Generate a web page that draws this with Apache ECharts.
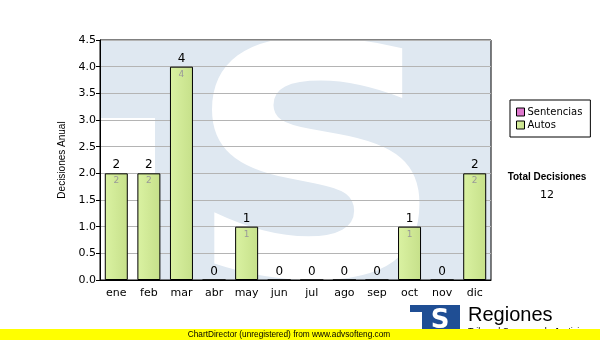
<!DOCTYPE html>
<html><head><meta charset="utf-8">
<script src="https://cdn.jsdelivr.net/npm/echarts@6/dist/echarts.min.js"></script>
<style>html,body{margin:0;padding:0;background:#fff}#c{width:600px;height:340px}</style>
</head><body><div id="c"></div>
<script>
var categories = ['ene','feb','mar','abr','may','jun','jul','ago','sep','oct','nov','dic'];
var sentencias = [0,0,0,0,0,0,0,0,0,0,0,0];
var autos = [2,2,4,0,1,0,0,0,0,1,0,2];
var yTicks = [0,0.5,1,1.5,2,2.5,3,3.5,4,4.5];
var totalDecisiones = 12;

var F = 'DejaVu Sans, Verdana, sans-serif';
var chart = echarts.init(document.getElementById('c'));
chart.setOption({
  animation: false,
  backgroundColor: '#fff',
  grid: {left:100, right:109, top:40, bottom:60, show:true, borderColor:'#000', borderWidth:1, backgroundColor:'transparent'},
  legend: {
    orient:'vertical', left:510, top:100, padding:[7,8,7,6], itemGap:3,
    itemWidth:8, itemHeight:8, icon:'rect',
    borderColor:'#000', borderWidth:1, backgroundColor:'#fff',
    itemStyle:{borderColor:'#000', borderWidth:1},
    textStyle:{fontFamily:F, fontSize:10, color:'#000', padding:[0,0,0,-2]},
    data:['Sentencias','Autos']
  },
  xAxis: {
    type:'category', data:categories,
    axisLine:{lineStyle:{color:'#000'}},
    axisTick:{alignWithLabel:true, length:4, lineStyle:{color:'#000'}},
    axisLabel:{fontFamily:F, fontSize:11, color:'#000', margin:8}
  },
  yAxis: {
    type:'value', min:0, max:4.5, interval:0.5,
    name:'Decisiones Anual', nameLocation:'middle', nameGap:26,
    nameTextStyle:{fontFamily:'Liberation Sans, Arial, sans-serif', fontSize:10, color:'#000'},
    axisLine:{show:true, lineStyle:{color:'#000'}},
    axisTick:{show:true, length:4, lineStyle:{color:'#000'}},
    axisLabel:{fontFamily:F, fontSize:11, color:'#000', margin:4,
      formatter:function(v){return yTicks.indexOf(v)>=0 ? v.toFixed(1) : '';}},
    splitLine:{lineStyle:{color:'#b4b4b4'}}
  },
  series: [
    {name:'Autos', type:'bar', stack:'t', data:autos, barWidth:23,
      itemStyle:{borderColor:'#000', borderWidth:1,
        color:new echarts.graphic.LinearGradient(0,0,1,0,[{offset:0,color:'#daf2a2'},{offset:1,color:'#c6e08a'}])},
      label:{show:true, position:'insideTop', distance:3, fontFamily:F, fontSize:9, color:'#999',
        formatter:function(p){return p.value>0 ? String(p.value) : '';}}
    },
    {name:'Sentencias', type:'bar', stack:'t', data:sentencias, barWidth:23,
      itemStyle:{color:'#dd77cc', borderWidth:0},
      label:{show:true, position:'top', distance:2, fontFamily:F, fontSize:12, color:'#000',
        formatter:function(p){return String(autos[p.dataIndex]+sentencias[p.dataIndex]);}}
    }
  ],
  graphic: [
    {type:'rect', z:-10, silent:true, shape:{x:100,y:40,width:391,height:240}, style:{fill:'#dfe8f1'}},
    {type:'rect', z:-9, silent:true, shape:{x:100,y:118,width:55,height:162}, style:{fill:'#fff'}},
    {type:'text', z:-9, silent:true, x:316, y:192, scaleX:1.12, style:{text:'S', font:'bold 322px "DejaVu Sans"', fill:'#fff', align:'center', verticalAlign:'middle'}},
    {type:'text', x:547, y:172, style:{text:'Total Decisiones', font:'bold 10px "Liberation Sans"', fill:'#000', align:'center'}},
    {type:'text', x:547, y:190, style:{text:String(totalDecisiones), font:'11px "DejaVu Sans"', fill:'#000', align:'center'}},
    {type:'rect', shape:{x:410,y:305,width:50,height:30}, style:{fill:'#1f4e94'}},
    {type:'rect', shape:{x:410,y:312,width:12,height:23}, style:{fill:'#fff'}},
    {type:'text', x:440, y:321, style:{text:'S', font:'bold 26px "DejaVu Sans"', fill:'#fff', align:'center', verticalAlign:'middle'}},
    {type:'text', x:468, y:305, style:{text:'Regiones', font:'20px "Liberation Sans"', fill:'#000'}},
    {type:'text', x:468, y:327, style:{text:'Tribunal Supremo de Justicia', font:'9px "Liberation Sans"', fill:'#000'}},
    {type:'rect', shape:{x:0,y:329,width:600,height:11}, style:{fill:'#ffff00'}},
    {type:'text', x:289, y:334.5, scaleX:0.92, style:{text:'ChartDirector (unregistered) from www.advsofteng.com', font:'9px "Liberation Sans"', fill:'#000', align:'center', verticalAlign:'middle'}}
  ]
});
</script></body></html>
